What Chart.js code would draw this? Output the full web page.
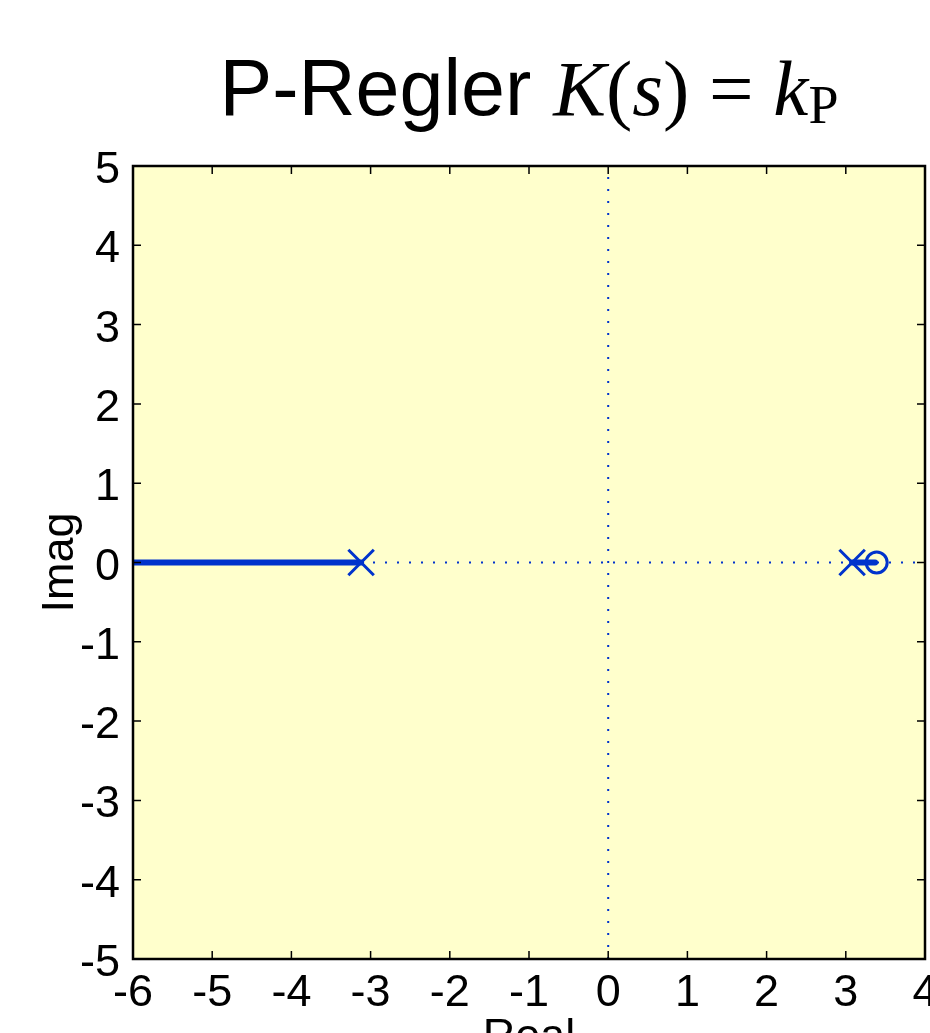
<!DOCTYPE html>
<html>
<head>
<meta charset="utf-8">
<title>P-Regler</title>
<script src="https://cdn.jsdelivr.net/npm/chart.js"></script>
<style>
    html, body { margin: 0; padding: 0; overflow: hidden; background: #ffffff; }
    canvas { display: block; }
</style>
</head>
<body>
<canvas id="locus" width="930" height="1033"></canvas>
<script>
"use strict"

/*-----------------------------Daten-------------------------------------------*/

let xTicks = [-6, -5, -4, -3, -2, -1, 0, 1, 2, 3, 4] // Real-Achse
let yTicks = [-5, -4, -3, -2, -1, 0, 1, 2, 3, 4, 5] // Imag-Achse

let poles = [-3.12, 3.08] // Pole (x)
let zeros = [3.39]        // Nullstelle (o)

let branchLeftRe = [-6, -3.12] // Ast links
let branchLeftIm = [0, 0]
let branchRightRe = [3.08, 3.37] // Ast rechts (zur Nullstelle)
let branchRightIm = [0, 0]

let blue = "#0033cc"

function toPoints(re, im) { // macht {x,y} aus zwei Arrays
    let pts = []
    for (let i = 0; i < re.length; i++) {
        pts.push({ x: re[i], y: im[i] })
    }
    return pts
}

/*-----------------------------Achsen, Rahmen, Texte-------------------------------------------*/

let matlabBox = {
    id: "matlabBox",
    beforeDatasetsDraw(chart) {
        let a = chart.chartArea
        let ctx = chart.ctx
        ctx.save()
        ctx.fillStyle = "#ffffcc" // gelber Hintergrund
        ctx.fillRect(a.left, a.top, a.right - a.left, a.bottom - a.top)
        ctx.restore()
    },
    afterDraw(chart) {
        let a = chart.chartArea
        let ctx = chart.ctx
        let xs = chart.scales.x
        let ys = chart.scales.y
        ctx.save()

        // Ticks nach innen, alle vier Seiten
        ctx.strokeStyle = "#000000"
        ctx.lineWidth = 1.5
        ctx.beginPath()
        for (let i = 0; i < xTicks.length; i++) {
            let px = xs.getPixelForValue(xTicks[i])
            ctx.moveTo(px, a.bottom); ctx.lineTo(px, a.bottom - 8)
            ctx.moveTo(px, a.top); ctx.lineTo(px, a.top + 8)
        }
        for (let i = 0; i < yTicks.length; i++) {
            let py = ys.getPixelForValue(yTicks[i])
            ctx.moveTo(a.left, py); ctx.lineTo(a.left + 8, py)
            ctx.moveTo(a.right, py); ctx.lineTo(a.right - 8, py)
        }
        ctx.stroke()

        // Rahmen
        ctx.lineWidth = 2.5
        ctx.strokeRect(a.left, a.top, a.right - a.left, a.bottom - a.top)

        // Tick-Beschriftung
        ctx.fillStyle = "#000000"
        ctx.font = "45px 'Liberation Sans', Arial, sans-serif"
        ctx.textBaseline = "alphabetic"
        ctx.textAlign = "center"
        for (let i = 0; i < xTicks.length; i++) {
            ctx.fillText(String(xTicks[i]), xs.getPixelForValue(xTicks[i]), a.bottom + 47)
        }
        ctx.textAlign = "right"
        for (let i = 0; i < yTicks.length; i++) {
            ctx.fillText(String(yTicks[i]), a.left - 13, ys.getPixelForValue(yTicks[i]) + 17)
        }

        // Achsentitel
        ctx.textAlign = "center"
        ctx.fillText("Real", (a.left + a.right) / 2, a.bottom + 91)
        ctx.save()
        ctx.translate(73, (a.top + a.bottom) / 2)
        ctx.rotate(-Math.PI / 2)
        ctx.fillText("Imag", 0, 0)
        ctx.restore()

        // Titel: P-Regler K(s) = kP
        let sans = "79px 'Liberation Sans', Arial, sans-serif"
        let serif = "79px 'Liberation Serif', 'Times New Roman', serif"
        let serifIt = "italic 79px 'Liberation Serif', 'Times New Roman', serif"
        let parts = [
            { t: "P-Regler ", f: sans, dy: 0 },
            { t: "K", f: serifIt, dy: 0 },
            { t: "(", f: serif, dy: 0 },
            { t: "s", f: serifIt, dy: 0 },
            { t: ")", f: serif, dy: 0 },
            { t: " = ", f: serif, dy: 0 },
            { t: "k", f: serifIt, dy: 0 },
            { t: "P", f: "54px 'Liberation Serif', 'Times New Roman', serif", dy: 8 }
        ]
        let total = 0
        for (let i = 0; i < parts.length; i++) {
            ctx.font = parts[i].f
            parts[i].w = ctx.measureText(parts[i].t).width
            total += parts[i].w
        }
        let tx = (a.left + a.right) / 2 - total / 2
        ctx.textAlign = "left"
        for (let i = 0; i < parts.length; i++) {
            ctx.font = parts[i].f
            ctx.fillText(parts[i].t, tx, 115 + parts[i].dy)
            tx += parts[i].w
        }

        ctx.restore()
    }
}

/*-----------------------------Diagramm-------------------------------------------*/

let canvas = document.getElementById("locus")

new Chart(canvas, {
    type: "scatter",
    data: {
        datasets: [
            { // Pole
                data: toPoints(poles, [0, 0]),
                pointStyle: "crossRot",
                pointRadius: 18,
                borderColor: blue,
                borderWidth: 3,
                showLine: false,
                order: 0
            },
            { // Nullstelle
                data: toPoints(zeros, [0]),
                pointStyle: "circle",
                pointRadius: 10.5,
                borderColor: blue,
                backgroundColor: "rgba(0,0,0,0)",
                borderWidth: 3,
                showLine: false,
                order: 0
            },
            { // Ast links
                data: toPoints(branchLeftRe, branchLeftIm),
                showLine: true,
                borderColor: blue,
                borderWidth: 6,
                borderCapStyle: "round",
                pointRadius: 0,
                order: 1
            },
            { // Ast rechts
                data: toPoints(branchRightRe, branchRightIm),
                showLine: true,
                borderColor: blue,
                borderWidth: 6,
                borderCapStyle: "round",
                pointRadius: 0,
                order: 1
            },
            { // gepunktete Achse waagrecht
                data: toPoints([xTicks[0], xTicks[xTicks.length - 1]], [0, 0]),
                showLine: true,
                borderColor: blue,
                borderWidth: 2,
                borderDash: [2, 10],
                pointRadius: 0,
                order: 2
            },
            { // gepunktete Achse senkrecht
                data: toPoints([0, 0], [yTicks[0], yTicks[yTicks.length - 1]]),
                showLine: true,
                borderColor: blue,
                borderWidth: 2,
                borderDash: [2, 10],
                pointRadius: 0,
                order: 2
            }
        ]
    },
    options: {
        responsive: false,
        animation: false,
        events: [],
        layout: {
            autoPadding: false, // sonst Platz für die Marker
            padding: { left: 133, right: 5, top: 166, bottom: 74 }
        },
        scales: {
            x: { type: "linear", min: -6, max: 4, display: false },
            y: { type: "linear", min: -5, max: 5, display: false }
        },
        plugins: {
            legend: { display: false },
            tooltip: { enabled: false }
        }
    },
    plugins: [matlabBox]
})
</script>
</body>
</html>
